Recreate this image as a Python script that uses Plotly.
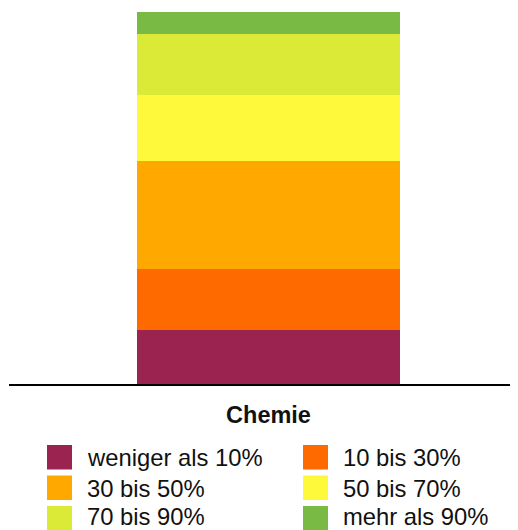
import plotly.graph_objects as go

category = ["Chemie"]
labels = ["weniger als 10%", "10 bis 30%", "30 bis 50%", "50 bis 70%", "70 bis 90%", "mehr als 90%"]
values = [14.6, 16.2, 29.1, 17.8, 16.4, 5.9]
colors = ["#9A2350", "#FF6A00", "#FFA800", "#FFF93C", "#DAEA36", "#78BA44"]

# page body has an 8px margin; figure is sized/offset to compensate
OFF = 8
W, H = 510, 522
ML, MR, MT, MB = 1, 0, 4, 146
PW, PH = W - ML - MR, H - MT - MB

fig = go.Figure()
for lab, val, col in zip(labels, values, colors):
    fig.add_trace(go.Bar(x=category, y=[val], name=lab, marker=dict(color=col, line=dict(width=0)),
                         width=0.5167, showlegend=False, hoverinfo="name+y"))

def px2paper(x, y):
    # x, y in screen pixels
    x -= OFF
    y -= OFF
    return (x - ML) / PW, (H - MB - y) / PH

shapes, annotations = [], []
col_x = [47, 303]
row_y = [445, 475.5, 506]
text_dy = [0, 0, -2]
for i, (lab, col) in enumerate(zip(labels, colors)):
    cx = col_x[i % 2]
    ry = row_y[i // 2]
    x0, y0 = px2paper(cx, ry)
    x1, y1 = px2paper(cx + 25, ry + 24.5)
    shapes.append(dict(type="rect", xref="paper", yref="paper", x0=x0, x1=x1, y0=y1, y1=y0,
                       fillcolor=col, line=dict(width=0), layer="above"))
    tx, ty = px2paper(cx + 38, ry + 12.5 + text_dy[i // 2])
    annotations.append(dict(xref="paper", yref="paper", x=tx, y=ty, text=lab, showarrow=False,
                            xanchor="left", yanchor="middle",
                            font=dict(family="Liberation Sans, Arial, sans-serif", size=23.8, color="#111111")))

fig.update_layout(
    width=W, height=H, autosize=False,
    margin=dict(l=ML, r=MR, t=MT, b=MB, pad=0),
    barmode="stack", bargap=0,
    plot_bgcolor="white", paper_bgcolor="white",
    showlegend=False,
    shapes=shapes, annotations=annotations,
    font=dict(family="Liberation Sans, Arial, sans-serif"),
    xaxis=dict(type="category", range=[-0.5098, 0.4902], showline=True, linecolor="black", linewidth=2,
               ticks="outside", ticklen=9, tickcolor="rgba(0,0,0,0)", showgrid=False, zeroline=False,
               tickfont=dict(family="Liberation Sans, Arial, sans-serif", size=23.5, color="#111111", weight="bold")),
    yaxis=dict(range=[0, 100], visible=False, showgrid=False, zeroline=False),
)

fig.write_html("out.html")
